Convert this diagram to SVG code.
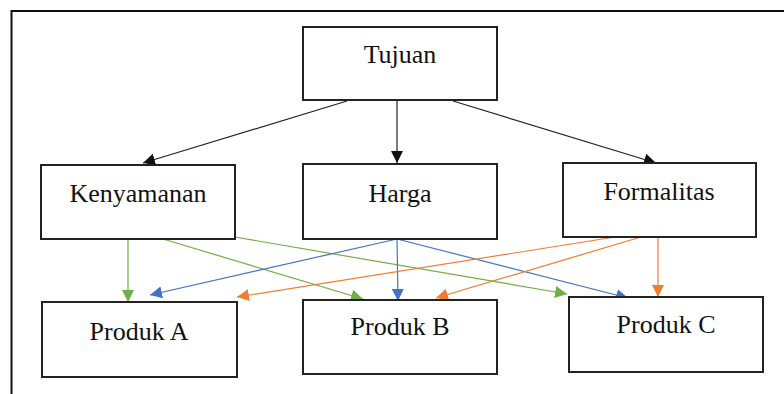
<svg xmlns="http://www.w3.org/2000/svg" width="784" height="394" viewBox="0 0 784 394">
<style>
.box{fill:#fff;stroke:#222;stroke-width:2}
.lbl{font-family:"Liberation Serif","Times New Roman",serif;font-size:26px;fill:#111;text-anchor:middle}
.k{stroke:#222;stroke-width:1.2;fill:none}
.g{stroke:#70AD47;stroke-width:1.2;fill:none}
.b{stroke:#4472C4;stroke-width:1.2;fill:none}
.o{stroke:#ED7D31;stroke-width:1.2;fill:none}
</style>
<defs>
<marker id="mk" markerUnits="userSpaceOnUse" markerWidth="12" markerHeight="12" refX="12" refY="6" orient="auto"><path d="M0,0 L12,6 L0,12 z" fill="#111"/></marker>
<marker id="mg" markerUnits="userSpaceOnUse" markerWidth="12" markerHeight="12" refX="12" refY="6" orient="auto"><path d="M0,0 L12,6 L0,12 z" fill="#70AD47"/></marker>
<marker id="mb" markerUnits="userSpaceOnUse" markerWidth="12" markerHeight="12" refX="12" refY="6" orient="auto"><path d="M0,0 L12,6 L0,12 z" fill="#4472C4"/></marker>
<marker id="mo" markerUnits="userSpaceOnUse" markerWidth="12" markerHeight="12" refX="12" refY="6" orient="auto"><path d="M0,0 L12,6 L0,12 z" fill="#ED7D31"/></marker>
</defs>
<rect width="784" height="394" fill="#fff"/>
<path d="M11.5,394 V11 H784" fill="none" stroke="#111" stroke-width="2"/>
<g id="connectors">
<line class="k" x1="347" y1="101" x2="143" y2="163" marker-end="url(#mk)"/>
<line class="k" x1="397" y1="101" x2="397" y2="163" marker-end="url(#mk)"/>
<line class="k" x1="453" y1="101" x2="656" y2="163" marker-end="url(#mk)"/>
<line class="g" x1="128" y1="239" x2="128" y2="302" marker-end="url(#mg)"/>
<line class="g" x1="163" y1="239" x2="363" y2="299" marker-end="url(#mg)"/>
<line class="g" x1="235" y1="237" x2="567" y2="294" marker-end="url(#mg)"/>
<line class="b" x1="397" y1="239" x2="150" y2="295" marker-end="url(#mb)"/>
<line class="b" x1="397" y1="239" x2="398" y2="301" marker-end="url(#mb)" stroke-width="1.8"/>
<line class="b" x1="397" y1="239" x2="628" y2="298" marker-end="url(#mb)"/>
<line class="o" x1="615" y1="237" x2="237" y2="297" marker-end="url(#mo)"/>
<line class="o" x1="641" y1="237" x2="436" y2="298" marker-end="url(#mo)"/>
<line class="o" x1="658" y1="237" x2="658" y2="297" marker-end="url(#mo)"/>
</g>
<g id="tujuan"><rect class="box" x="303" y="27" width="194" height="73"/><text class="lbl" x="400" y="63">Tujuan</text></g>
<g id="kenyamanan"><rect class="box" x="41" y="165" width="194" height="74"/><text class="lbl" x="138" y="202">Kenyamanan</text></g>
<g id="harga"><rect class="box" x="303" y="164" width="194" height="75"/><text class="lbl" x="400" y="202">Harga</text></g>
<g id="formalitas"><rect class="box" x="563" y="163" width="193" height="74"/><text class="lbl" x="659" y="200">Formalitas</text></g>
<g id="produk-a"><rect class="box" x="42" y="302" width="195" height="75"/><text class="lbl" x="139" y="340">Produk A</text></g>
<g id="produk-b"><rect class="box" x="303" y="300" width="194" height="74"/><text class="lbl" x="400" y="335">Produk B</text></g>
<g id="produk-c"><rect class="box" x="569" y="297" width="194" height="75"/><text class="lbl" x="666" y="333">Produk C</text></g>
</svg>
